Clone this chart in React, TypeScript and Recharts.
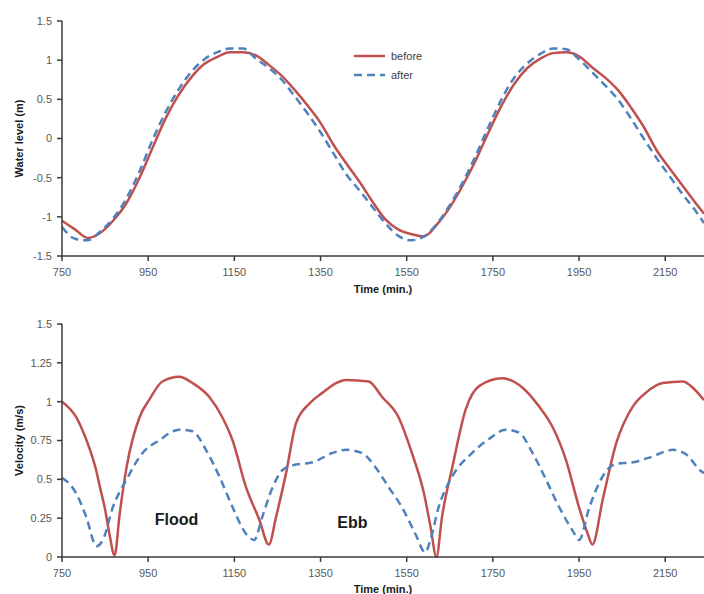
import React from "react";
import { LineChart, Line, XAxis, YAxis, Legend, ReferenceDot } from "recharts";

const timeTicks = [750, 950, 1150, 1350, 1550, 1750, 1950, 2150];
const levelTicks = [-1.5, -1, -0.5, 0, 0.5, 1, 1.5];
const velocityTicks = [0, 0.25, 0.5, 0.75, 1, 1.25, 1.5];

// water level (m), sampled every ~30 min
const levelTime = [
  750, 780, 810, 840, 870, 900, 930, 960, 990, 1020, 1050, 1080, 1110, 1140, 1170, 1200, 1230,
  1260, 1290, 1320, 1350, 1380, 1410, 1440, 1470, 1500, 1530, 1560, 1590, 1620, 1650, 1680,
  1710, 1740, 1770, 1800, 1830, 1860, 1890, 1920, 1950, 1980, 2010, 2040, 2070, 2100, 2130,
  2160, 2190, 2220, 2240,
];
const levelBefore = [
  -1.05, -1.16, -1.27, -1.2, -1.04, -0.82, -0.5, -0.12, 0.25, 0.55, 0.78, 0.95, 1.04, 1.1, 1.1,
  1.06, 0.94, 0.8, 0.62, 0.42, 0.2, -0.08, -0.32, -0.55, -0.8, -1.03, -1.16, -1.22, -1.25, -1.1,
  -0.88, -0.6, -0.28, 0.08, 0.42, 0.7, 0.9, 1.02, 1.09, 1.1, 1.05, 0.91, 0.78, 0.62, 0.4, 0.15,
  -0.15, -0.38, -0.6, -0.82, -0.96,
];
const levelAfter = [
  -1.13, -1.28, -1.3, -1.18, -1.01, -0.76, -0.42, -0.02, 0.33, 0.62, 0.85, 1.01, 1.1, 1.15, 1.15,
  1.02, 0.9, 0.75, 0.54, 0.32, 0.08, -0.19, -0.46, -0.66, -0.87, -1.08, -1.24, -1.3, -1.25, -1.09,
  -0.85, -0.56, -0.22, 0.15, 0.5, 0.78, 0.96, 1.08, 1.15, 1.14, 1.01, 0.85, 0.68, 0.5, 0.26, 0,
  -0.25, -0.48, -0.71, -0.92, -1.08,
];

// velocity (m/s)
const velBeforeTime = [
  750, 783, 800, 815, 830, 838, 849, 860, 872, 884, 900, 930, 952, 983, 1022, 1053, 1092, 1122,
  1146, 1177, 1208, 1230, 1247, 1270, 1293, 1325, 1356, 1386, 1410, 1462, 1493, 1531, 1562, 1590,
  1605, 1619, 1632, 1656, 1687, 1718, 1772, 1819, 1857, 1888, 1919, 1950, 1970, 1981, 2005, 2036,
  2075, 2106, 2144, 2191, 2214, 2240,
];
const velBefore = [
  1.0, 0.9, 0.8, 0.69, 0.55, 0.45, 0.32, 0.15, 0.01, 0.28, 0.58, 0.9, 1.01, 1.13, 1.16, 1.12, 1.03,
  0.9, 0.75, 0.45, 0.24, 0.08, 0.26, 0.54, 0.86, 0.99, 1.06, 1.12, 1.14, 1.13, 1.03, 0.9, 0.67,
  0.41, 0.2, 0.0, 0.26, 0.58, 0.95, 1.1, 1.15, 1.09, 0.97, 0.84, 0.63, 0.32, 0.15, 0.08, 0.37,
  0.73, 0.97, 1.06, 1.12, 1.13, 1.09, 1.01,
];
const velAfterTime = [
  750, 783, 806, 830, 845, 868, 900, 937, 975, 1022, 1053, 1084, 1115, 1146, 1177, 1196, 1215,
  1239, 1262, 1285, 1332, 1378, 1410, 1446, 1477, 1508, 1539, 1570, 1593, 1605, 1624, 1656, 1702,
  1741, 1780, 1811, 1842, 1873, 1904, 1935, 1950, 1974, 2005, 2036, 2075, 2113, 2168, 2199, 2230,
  2240,
];
const velAfter = [
  0.51, 0.41, 0.26, 0.07, 0.11, 0.32, 0.5, 0.67, 0.75, 0.82, 0.81, 0.69, 0.52, 0.32, 0.15, 0.11,
  0.26, 0.45, 0.56, 0.59, 0.61, 0.67, 0.69, 0.67, 0.58, 0.45, 0.32, 0.15, 0.03, 0.11, 0.32, 0.52,
  0.67, 0.76, 0.82, 0.8, 0.67, 0.5, 0.32, 0.17, 0.11, 0.32, 0.52, 0.6, 0.61, 0.64, 0.69, 0.66,
  0.56, 0.54,
];

const RED = "#C0504D";
const BLUE = "#4F81BD";
const FONT = "'Liberation Sans', Arial, sans-serif";
const AXIS = "#3a3a3a";

const levelData = levelTime.map((t, i) => ({ time: t, before: levelBefore[i], after: levelAfter[i] }));
const velBeforeData = velBeforeTime.map((t, i) => ({ time: t, value: velBefore[i] }));
const velAfterData = velAfterTime.map((t, i) => ({ time: t, value: velAfter[i] }));

const tickStyle = { fill: "#595959", fontSize: 11, fontFamily: FONT };
const axisLine = { stroke: AXIS, strokeWidth: 1.5 };
const titleStyle = { fill: "#1a1a1a", fontSize: 11, fontWeight: "bold", fontFamily: FONT };

const LegendBox = () => (
  <div style={{ fontFamily: FONT, fontSize: 11, color: "#404040" }}>
    {[
      { name: "before", color: RED, dash: undefined },
      { name: "after", color: BLUE, dash: "8 5" },
    ].map((s) => (
      <div key={s.name} style={{ height: 19, display: "flex", alignItems: "center" }}>
        <svg width={31} height={6} style={{ marginRight: 6 }}>
          <line x1={0} y1={3} x2={31} y2={3} stroke={s.color} strokeWidth={2.5} strokeDasharray={s.dash} />
        </svg>
        <span>{s.name}</span>
      </div>
    ))}
  </div>
);

export default function App() {
  return (
    <div style={{ position: "absolute", left: 0, top: 0, width: 704, height: 594, background: "#fff", overflow: "hidden" }}>
      <div style={{ position: "absolute", left: 0, top: 0 }}>
        <LineChart width={704} height={300} data={levelData} margin={{ top: 21, right: 0, bottom: 0, left: 0 }}>
          <XAxis
            dataKey="time"
            type="number"
            domain={[750, 2240]}
            ticks={timeTicks}
            interval={0}
            height={44}
            tick={tickStyle}
            tickSize={5}
            tickMargin={7}
            axisLine={axisLine}
            tickLine={axisLine}
            label={{ value: "Time (min.)", position: "insideBottom", offset: 7, ...titleStyle }}
          />
          <YAxis
            type="number"
            domain={[-1.5, 1.5]}
            ticks={levelTicks}
            interval={0}
            width={62}
            tick={tickStyle}
            tickSize={5}
            tickMargin={5}
            axisLine={axisLine}
            tickLine={axisLine}
            label={{
              value: "Water level (m)",
              angle: -90,
              position: "insideLeft",
              offset: 19,
              style: { textAnchor: "middle" },
              ...titleStyle,
            }}
          />
          <Legend
            layout="vertical"
            align="center"
            verticalAlign="middle"
            content={<LegendBox />}
            wrapperStyle={{ left: 354, top: 46, width: "auto" }}
          />
          <Line dataKey="before" name="before" type="monotone" stroke={RED} strokeWidth={2.5} dot={false} isAnimationActive={false} />
          <Line dataKey="after" name="after" type="monotone" stroke={BLUE} strokeWidth={2.5} strokeDasharray="8 5" dot={false} isAnimationActive={false} />
        </LineChart>
      </div>
      <div style={{ position: "absolute", left: 0, top: 300 }}>
        <LineChart width={704} height={294} margin={{ top: 24, right: 0, bottom: 0, left: 0 }}>
          <XAxis
            dataKey="time"
            type="number"
            domain={[750, 2240]}
            ticks={timeTicks}
            interval={0}
            height={37}
            tick={tickStyle}
            tickSize={5}
            tickMargin={7}
            axisLine={axisLine}
            tickLine={axisLine}
            allowDuplicatedCategory={false}
            label={{ value: "Time (min.)", position: "insideBottom", offset: 1, ...titleStyle }}
          />
          <YAxis
            type="number"
            domain={[0, 1.5]}
            ticks={velocityTicks}
            interval={0}
            width={62}
            tick={tickStyle}
            tickSize={5}
            tickMargin={5}
            axisLine={axisLine}
            tickLine={axisLine}
            label={{
              value: "Velocity (m/s)",
              angle: -90,
              position: "insideLeft",
              offset: 19,
              style: { textAnchor: "middle" },
              ...titleStyle,
            }}
          />
          <Line data={velBeforeData} dataKey="value" name="before" type="monotone" stroke={RED} strokeWidth={2.5} dot={false} isAnimationActive={false} />
          <Line data={velAfterData} dataKey="value" name="after" type="monotone" stroke={BLUE} strokeWidth={2.5} strokeDasharray="8 5" dot={false} isAnimationActive={false} />
          <ReferenceDot x={1016} y={0.245} r={0} fill="none" stroke="none" label={{ value: "Flood", position: "center", fontSize: 16, fontWeight: "bold", fill: "#1a1a1a", fontFamily: FONT }} />
          <ReferenceDot x={1424} y={0.225} r={0} fill="none" stroke="none" label={{ value: "Ebb", position: "center", fontSize: 16, fontWeight: "bold", fill: "#1a1a1a", fontFamily: FONT }} />
        </LineChart>
      </div>
    </div>
  );
}
